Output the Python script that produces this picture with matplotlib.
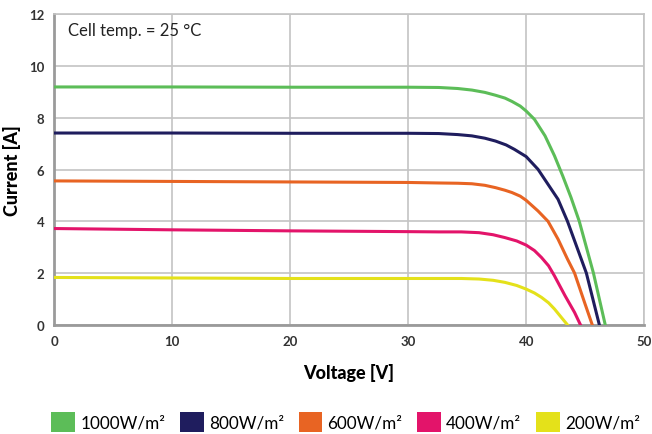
import matplotlib
matplotlib.use("Agg")
import matplotlib.pyplot as plt
from matplotlib.patches import Patch

plt.rcParams['font.family'] = ['Lato', 'DejaVu Sans']

# I-V curves (voltage V, current A)
v_1000 = [0, 10, 20, 30, 32.6, 34.2, 35.4, 36.5, 37.4, 38.2, 38.8, 39.5, 40.0, 40.7, 41.6, 42.4, 43.1, 43.8, 44.5, 45.7, 46.7]
i_1000 = [9.19, 9.19, 9.18, 9.18, 9.17, 9.13, 9.07, 8.98, 8.87, 8.76, 8.63, 8.45, 8.26, 7.94, 7.3, 6.53, 5.75, 4.92, 4.0, 2.0, 0]

v_800 = [0, 10, 20, 30, 32.6, 34.2, 35.4, 36.5, 37.4, 38.3, 39.0, 40.0, 41.0, 41.85, 42.7, 43.5, 45.1, 46.2]
i_800 = [7.41, 7.41, 7.4, 7.4, 7.39, 7.35, 7.3, 7.21, 7.1, 6.95, 6.78, 6.5, 6.01, 5.43, 4.85, 4.0, 2.0, 0]

v_600 = [0, 10, 20, 30, 32.6, 34.2, 35.4, 36.5, 37.4, 38.2, 38.8, 39.5, 40.0, 41.0, 41.85, 42.7, 43.5, 44.1, 44.95, 45.6]
i_600 = [5.56, 5.54, 5.52, 5.5, 5.48, 5.47, 5.45, 5.39, 5.3, 5.2, 5.11, 4.97, 4.81, 4.4, 4.0, 3.31, 2.54, 2.0, 0.86, 0]

v_400 = [0, 10, 20, 30, 32.6, 34.5, 36.0, 37.2, 38.2, 39.2, 40.0, 40.7, 41.3, 41.9, 42.4, 43.3, 44.1, 44.6]
i_400 = [3.72, 3.67, 3.63, 3.6, 3.59, 3.59, 3.56, 3.48, 3.37, 3.24, 3.08, 2.87, 2.6, 2.28, 1.89, 1.12, 0.48, 0]

v_200 = [0, 10, 20, 30, 32.6, 34.5, 36.0, 37.2, 38.2, 39.2, 40.0, 40.7, 41.3, 41.9, 42.4, 43.1, 43.5]
i_200 = [1.83, 1.81, 1.79, 1.79, 1.79, 1.79, 1.77, 1.72, 1.64, 1.52, 1.38, 1.23, 1.06, 0.85, 0.61, 0.22, 0]

labels = ['1000W/m²', '800W/m²', '600W/m²', '400W/m²', '200W/m²']
colors = ['#5cbd58', '#1f1d5e', '#e86423', '#e3146a', '#e4e11a']
curves = [(v_1000, i_1000), (v_800, i_800), (v_600, i_600), (v_400, i_400), (v_200, i_200)]

fig = plt.figure(figsize=(6.52, 4.35), dpi=100)
ax = fig.add_axes([0.083, 0.251, 0.905, 0.714])

for (v, i), c in zip(curves, colors):
    ax.plot(v, i, color=c, lw=2.2, solid_joinstyle='round', zorder=3)

ax.set_xlim(0, 50)
ax.set_ylim(0, 12)
ax.set_xticks(range(0, 51, 10))
ax.set_yticks(range(0, 13, 2))
ax.grid(True, color='#c4c4c4', lw=1.2)
ax.set_axisbelow(True)
for s in ['top', 'right']:
    ax.spines[s].set_color('#c4c4c4')
    ax.spines[s].set_linewidth(1.2)
for s in ['left', 'bottom']:
    ax.spines[s].set_color('#9a9a9a')
    ax.spines[s].set_linewidth(2)
ax.tick_params(length=0, labelsize=9.5, colors='#333333', pad=7)
for lab in ax.get_xticklabels() + ax.get_yticklabels():
    lab.set_fontweight('bold')

ax.set_xlabel('Voltage [V]', fontsize=13, fontweight='black', labelpad=12)
ax.set_ylabel('Current [A]', fontsize=13, fontweight='black', labelpad=6)

ax.text(1.2, 11.4, 'Cell temp. = 25 °C', fontsize=12, color='#222222', va='center')

handles = [Patch(facecolor=c, edgecolor='none') for c in colors]
fig.legend(handles, labels, loc='lower center', bbox_to_anchor=(0.53, -0.03), ncol=5,
           frameon=False, fontsize=12.3, handlelength=1.4, handleheight=1.4,
           handletextpad=0.3, columnspacing=0.85)

fig.savefig('out.png', dpi=100)
